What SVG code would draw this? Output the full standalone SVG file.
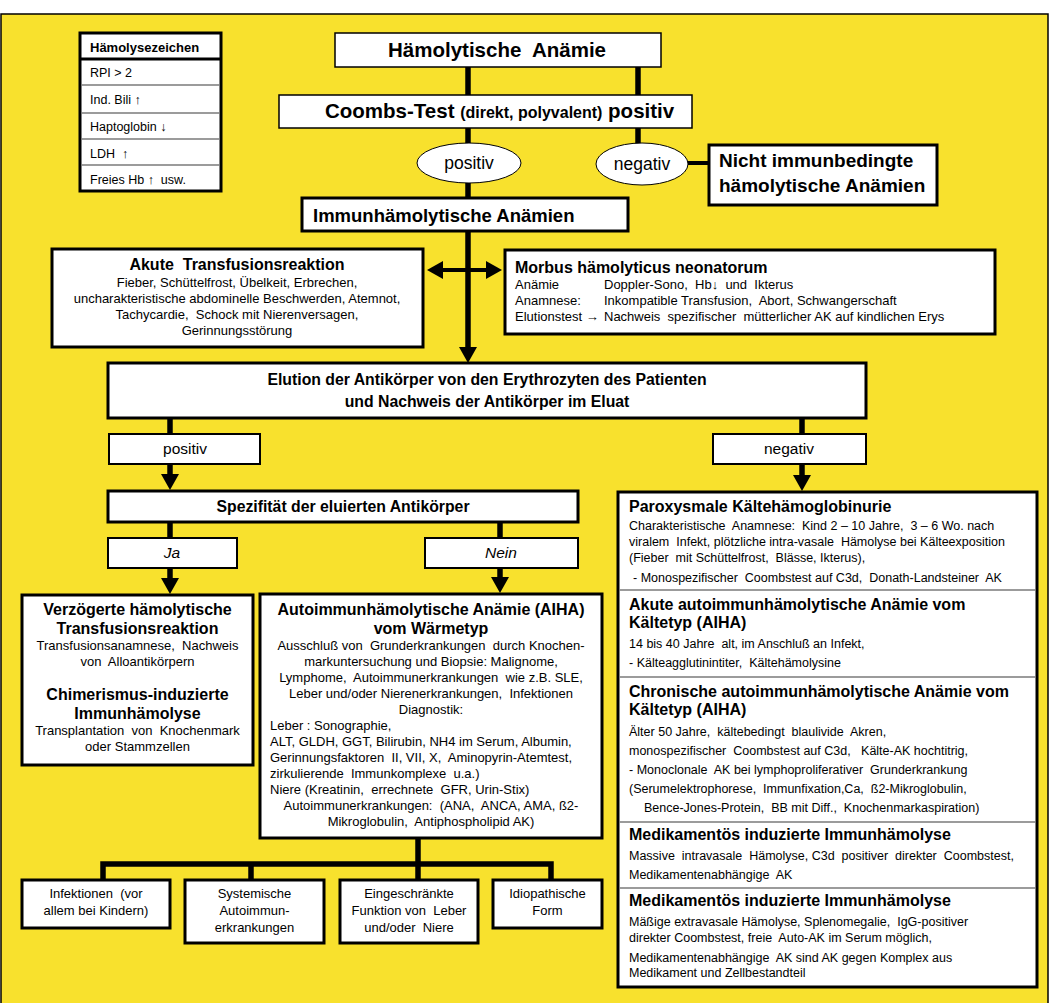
<svg xmlns="http://www.w3.org/2000/svg" width="1050" height="1003" viewBox="0 0 1050 1003">
<style>
text{font-family:"Liberation Sans",Arial,sans-serif;fill:#000;white-space:pre}
.b{font-weight:bold}
.c{text-anchor:middle}
.t12{font-size:12.5px}
.t125{font-size:13px}
.t13{font-size:13px}
.t16{font-size:16px}
.h{font-size:16px;font-weight:bold}
.box{fill:#fff;stroke:#000;stroke-width:3}
.thin{fill:#fff;stroke:#000;stroke-width:1.5}
.mid{fill:#fff;stroke:#000;stroke-width:2}
.ln{stroke:#000;stroke-width:5.5;fill:none}
.ln4{stroke:#000;stroke-width:4;fill:none}
.sep{stroke:#7a7a7a;stroke-width:1.5}
</style>
<defs>
<marker id="arr" viewBox="0 0 16 18" refX="0" refY="9" markerWidth="16" markerHeight="18" markerUnits="userSpaceOnUse" orient="auto-start-reverse"><path d="M0,0 L16,9 L0,18 z" fill="#000"/></marker>
</defs>
<rect x="0" y="0" width="1050" height="1003" fill="#fff"/>
<rect x="1" y="14" width="1047" height="992" fill="#F8E12D" stroke="#000" stroke-width="1.5"/>

<g id="connectors">
<line class="ln" x1="468" y1="62" x2="468" y2="95"/>
<line class="ln" x1="638" y1="67" x2="638" y2="95"/>
<line class="ln" x1="468" y1="128" x2="468" y2="144"/>
<line class="ln" x1="638" y1="128" x2="638" y2="144"/>
<line class="ln" x1="468" y1="182" x2="468" y2="198"/>
<line class="ln4" x1="688" y1="163" x2="709" y2="163"/>
<line class="ln" x1="468" y1="231" x2="468" y2="347" marker-end="url(#arr)"/>
<line class="ln4" x1="443" y1="270" x2="486" y2="270" marker-start="url(#arr)" marker-end="url(#arr)"/>
<line class="ln" x1="170" y1="418" x2="170" y2="434"/>
<line class="ln" x1="802" y1="418" x2="802" y2="434"/>
<line class="ln" x1="170" y1="464" x2="170" y2="474" marker-end="url(#arr)"/>
<line class="ln" x1="802" y1="464" x2="802" y2="475" marker-end="url(#arr)"/>
<line class="ln" x1="170" y1="522" x2="170" y2="538"/>
<line class="ln" x1="500" y1="522" x2="500" y2="538"/>
<line class="ln" x1="170" y1="568" x2="170" y2="578" marker-end="url(#arr)"/>
<line class="ln" x1="500" y1="568" x2="500" y2="577" marker-end="url(#arr)"/>
<path class="ln" d="M418,838 V864 M103,880 V864 H551 V880 M251,864 V880 M418,864 V880"/>
</g>

<g id="legend">
<rect x="80" y="33" width="141" height="158" fill="#fff" stroke="#000" stroke-width="3"/>
<line x1="80" y1="59" x2="221" y2="59" stroke="#000" stroke-width="3"/>
<line class="sep" x1="81" y1="85" x2="220" y2="85"/>
<line class="sep" x1="81" y1="113" x2="220" y2="113"/>
<line class="sep" x1="81" y1="139" x2="220" y2="139"/>
<line class="sep" x1="81" y1="165" x2="220" y2="165"/>
<text class="b" font-size="13" x="90" y="52">Hämolysezeichen</text>
<text font-size="12.5" x="90" y="77">RPI &gt; 2</text>
<text font-size="12.5" x="90" y="104">Ind. Bili ↑</text>
<text font-size="12.5" x="90" y="131">Haptoglobin ↓</text>
<text font-size="12.5" x="90" y="158">LDH  ↑</text>
<text font-size="12.5" x="90" y="184">Freies Hb ↑  usw.</text>
</g>

<g id="haemolytische-anaemie">
<rect class="thin" x="335" y="33" width="326" height="34"/>
<text class="b c" x="497" y="57" font-size="20.5">Hämolytische  Anämie</text>
</g>

<g id="coombs">
<rect class="thin" x="279" y="95" width="413" height="33"/>
<text class="b" x="325" y="118" font-size="20.5">Coombs-Test <tspan font-size="16">(direkt, polyvalent)</tspan> positiv</text>
</g>

<g id="ellipse-positiv">
<ellipse cx="469" cy="163" rx="52" ry="20" fill="#fff" stroke="#000" stroke-width="1"/>
<text class="c" x="469" y="169" font-size="17.5">positiv</text>
</g>
<g id="ellipse-negativ">
<ellipse cx="642" cy="164" rx="46" ry="21" fill="#fff" stroke="#000" stroke-width="1"/>
<text class="c" x="642" y="170" font-size="17.5">negativ</text>
</g>

<g id="nicht-immun">
<rect class="box" x="709" y="145" width="228" height="60"/>
<text class="b" x="719" y="167" font-size="19">Nicht immunbedingte</text>
<text class="b" x="719" y="192" font-size="19">hämolytische Anämien</text>
</g>

<g id="immunhaemolytische">
<rect class="box" x="302" y="198" width="326" height="33"/>
<text class="b" x="313" y="222" font-size="18.5">Immunhämolytische Anämien</text>
</g>

<g id="akute-transfusion">
<rect class="box" x="52" y="249" width="371" height="98"/>
<text class="c h" x="237" y="270">Akute  Transfusionsreaktion</text>
<text class="c t125" x="237" y="287">Fieber, Schüttelfrost, Übelkeit, Erbrechen,</text>
<text class="c t125" x="237" y="303">uncharakteristische abdominelle Beschwerden, Atemnot,</text>
<text class="c t125" x="237" y="319">Tachycardie,  Schock mit Nierenversagen,</text>
<text class="c t125" x="237" y="335">Gerinnungsstörung</text>
</g>

<g id="morbus">
<rect class="box" x="505" y="250" width="490" height="84"/>
<text class="h" x="515" y="273">Morbus hämolyticus neonatorum</text>
<text class="t125" x="515" y="289">Anämie</text>
<text class="t125" x="604" y="289">Doppler-Sono,  Hb↓  und  Ikterus</text>
<text class="t125" x="515" y="305">Anamnese:</text>
<text class="t125" x="604" y="305">Inkompatible Transfusion,  Abort, Schwangerschaft</text>
<text class="t125" x="515" y="321">Elutionstest →</text>
<text class="t125" x="604" y="321">Nachweis  spezifischer  mütterlicher AK auf kindlichen Erys</text>
</g>

<g id="elution">
<rect class="box" x="108" y="363" width="758" height="55"/>
<text class="b c" x="487" y="385" font-size="15.8">Elution der Antikörper von den Erythrozyten des Patienten</text>
<text class="b c" x="487" y="407" font-size="15.8">und Nachweis der Antikörper im Eluat</text>
</g>

<g id="elution-positiv">
<rect class="mid" x="109" y="434" width="151" height="30"/>
<text class="c" x="185" y="454" font-size="15.5">positiv</text>
</g>
<g id="elution-negativ">
<rect class="mid" x="713" y="434" width="153" height="30"/>
<text class="c" x="789" y="454" font-size="15.5">negativ</text>
</g>

<g id="spezifitaet">
<rect class="box" x="108" y="491" width="470" height="31"/>
<text class="b c" x="343" y="512" font-size="15.8">Spezifität der eluierten Antikörper</text>
</g>

<g id="ja">
<rect class="mid" x="108" y="538" width="129" height="30"/>
<text class="c" x="172" y="558" font-size="15.5" font-style="italic">Ja</text>
</g>
<g id="nein">
<rect class="mid" x="425" y="538" width="153" height="30"/>
<text class="c" x="501" y="558" font-size="15.5" font-style="italic">Nein</text>
</g>

<g id="verzoegerte">
<rect class="box" x="22" y="595" width="231" height="170"/>
<text class="c h" x="137.5" y="615">Verzögerte hämolytische</text>
<text class="c h" x="137.5" y="634">Transfusionsreaktion</text>
<text class="c t125" x="137.5" y="650">Transfusionsanamnese,  Nachweis</text>
<text class="c t125" x="137.5" y="666">von  Alloantikörpern</text>
<text class="c h" x="137.5" y="700">Chimerismus-induzierte</text>
<text class="c h" x="137.5" y="719">Immunhämolyse</text>
<text class="c t125" x="137.5" y="735">Transplantation  von  Knochenmark</text>
<text class="c t125" x="137.5" y="751">oder Stammzellen</text>
</g>

<g id="aiha-waerme">
<rect class="box" x="260" y="594" width="342" height="244"/>
<text class="c h" x="431" y="615">Autoimmunhämolytische Anämie (AIHA)</text>
<text class="c h" x="431" y="634">vom Wärmetyp</text>
<text class="c t125" x="431" y="650">Ausschluß von  Grunderkrankungen  durch Knochen-</text>
<text class="c t125" x="431" y="666">markuntersuchung und Biopsie: Malignome,</text>
<text class="c t125" x="431" y="682">Lymphome,  Autoimmunerkrankungen  wie z.B. SLE,</text>
<text class="c t125" x="431" y="698">Leber und/oder Nierenerkrankungen,  Infektionen</text>
<text class="c t125" x="431" y="714">Diagnostik:</text>
<text class="t125" x="270" y="730">Leber : Sonographie,</text>
<text class="t125" x="270" y="746">ALT, GLDH, GGT, Bilirubin, NH4 im Serum, Albumin,</text>
<text class="t125" x="270" y="762">Gerinnungsfaktoren  II, VII, X,  Aminopyrin-Atemtest,</text>
<text class="t125" x="270" y="778">zirkulierende  Immunkomplexe  u.a.)</text>
<text class="t125" x="270" y="794">Niere (Kreatinin,  errechnete  GFR, Urin-Stix)</text>
<text class="c t125" x="431" y="810">Autoimmunerkrankungen:  (ANA,  ANCA, AMA, ß2-</text>
<text class="c t125" x="431" y="826">Mikroglobulin,  Antiphospholipid AK)</text>
</g>

<g id="infektionen">
<rect class="box" x="22" y="880" width="148" height="48"/>
<text class="c t13" x="96" y="898">Infektionen  (vor</text>
<text class="c t13" x="96" y="915">allem bei Kindern)</text>
</g>
<g id="systemische">
<rect class="box" x="185" y="880" width="139" height="63"/>
<text class="c t13" x="254.5" y="898">Systemische</text>
<text class="c t13" x="254.5" y="915">Autoimmun-</text>
<text class="c t13" x="254.5" y="932">erkrankungen</text>
</g>
<g id="eingeschraenkte">
<rect class="box" x="340" y="880" width="138" height="63"/>
<text class="c t13" x="409" y="898">Eingeschränkte</text>
<text class="c t13" x="409" y="915">Funktion von  Leber</text>
<text class="c t13" x="409" y="932">und/oder  Niere</text>
</g>
<g id="idiopathische">
<rect class="box" x="493" y="880" width="109" height="48"/>
<text class="c t13" x="547.5" y="898">Idiopathische</text>
<text class="c t13" x="547.5" y="915">Form</text>
</g>

<g id="kaelte-panel">
<rect class="box" x="618" y="492" width="419" height="495"/>
<line class="sep" x1="619" y1="590" x2="1036" y2="590"/>
<line class="sep" x1="619" y1="677" x2="1036" y2="677"/>
<line class="sep" x1="619" y1="822" x2="1036" y2="822"/>
<line class="sep" x1="619" y1="888" x2="1036" y2="888"/>
</g>
<g id="paroxysmale">
<text class="h" x="629" y="512">Paroxysmale Kältehämoglobinurie</text>
<text class="t12" x="629" y="530">Charakteristische  Anamnese:  Kind 2 – 10 Jahre,  3 – 6 Wo. nach</text>
<text class="t12" x="629" y="546">viralem  Infekt, plötzliche intra-vasale  Hämolyse bei Kälteexposition</text>
<text class="t12" x="629" y="562">(Fieber  mit Schüttelfrost,  Blässe, Ikterus),</text>
<text class="t12" x="633" y="582">- Monospezifischer  Coombstest auf C3d,  Donath-Landsteiner  AK</text>
</g>
<g id="akute-aiha-kaelte">
<text class="h" x="629" y="610">Akute autoimmunhämolytische Anämie vom</text>
<text class="h" x="629" y="628">Kältetyp (AIHA)</text>
<text class="t12" x="629" y="648">14 bis 40 Jahre  alt, im Anschluß an Infekt,</text>
<text class="t12" x="629" y="667">- Kälteagglutinintiter,  Kältehämolysine</text>
</g>
<g id="chronische-aiha-kaelte">
<text class="h" x="629" y="697">Chronische autoimmunhämolytische Anämie vom</text>
<text class="h" x="629" y="715">Kältetyp (AIHA)</text>
<text class="t12" x="629" y="736">Älter 50 Jahre,  kältebedingt  blaulivide  Akren,</text>
<text class="t12" x="629" y="755">monospezifischer  Coombstest auf C3d,   Kälte-AK hochtitrig,</text>
<text class="t12" x="629" y="774">- Monoclonale  AK bei lymphoproliferativer  Grunderkrankung</text>
<text class="t12" x="629" y="793">(Serumelektrophorese,  Immunfixation,Ca,  ß2-Mikroglobulin,</text>
<text class="t12" x="644" y="812">Bence-Jones-Protein,  BB mit Diff.,  Knochenmarkaspiration)</text>
</g>
<g id="medikament-1">
<text class="h" x="629" y="840">Medikamentös induzierte Immunhämolyse</text>
<text class="t12" x="629" y="860">Massive  intravasale  Hämolyse, C3d  positiver  direkter  Coombstest,</text>
<text class="t12" x="629" y="879">Medikamentenabhängige  AK</text>
</g>
<g id="medikament-2">
<text class="h" x="629" y="906">Medikamentös induzierte Immunhämolyse</text>
<text class="t12" x="629" y="926">Mäßige extravasale Hämolyse, Splenomegalie,  IgG-positiver</text>
<text class="t12" x="629" y="942">direkter Coombstest, freie  Auto-AK im Serum möglich,</text>
<text class="t12" x="629" y="962">Medikamentenabhängige  AK sind AK gegen Komplex aus</text>
<text class="t12" x="629" y="977">Medikament und Zellbestandteil</text>
</g>
</svg>
